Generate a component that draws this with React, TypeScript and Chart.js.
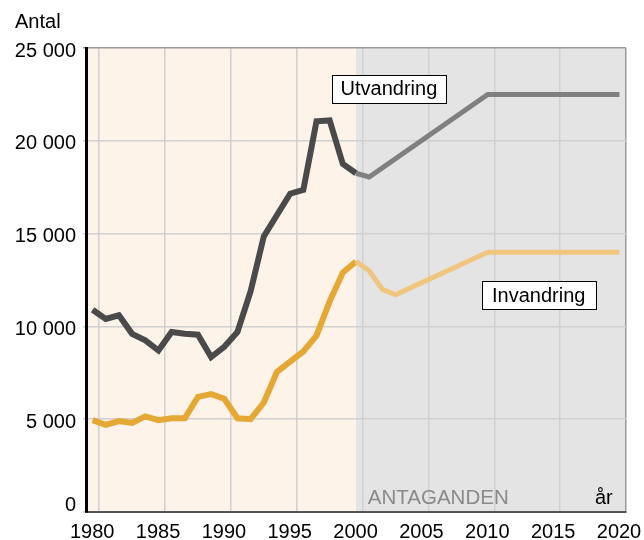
import React, { useEffect, useRef } from "react";
import { Chart, registerables } from "chart.js";

Chart.register(...registerables);

// ---- data ----
const histYears = [1980, 1981, 1982, 1983, 1984, 1985, 1986, 1987, 1988, 1989, 1990, 1991, 1992, 1993, 1994, 1995, 1996, 1997, 1998, 1999, 2000];
const utvandringHist = [10900, 10400, 10600, 9600, 9250, 8700, 9700, 9600, 9550, 8350, 8900, 9700, 11900, 14850, 16000, 17150, 17350, 21050, 21100, 18750, 18250];
const invandringHist = [4950, 4700, 4900, 4800, 5150, 4950, 5050, 5050, 6200, 6350, 6100, 5050, 5000, 5900, 7550, 8100, 8650, 9500, 11350, 12900, 13500];

const utvProjYears = [2000, 2001, 2010, 2020];
const utvandringProj = [18250, 18050, 22500, 22500];
const invProjYears = [2000, 2001, 2002, 2003, 2010, 2020];
const invandringProj = [13500, 13000, 12000, 11700, 14000, 14000];

const xTickYears = [1980, 1985, 1990, 1995, 2000, 2005, 2010, 2015, 2020];
const yTickValues = [0, 5000, 10000, 15000, 20000, 25000];

const yAxisTitle = "Antal";
const xAxisTitle = "år";
const assumptionLabel = "ANTAGANDEN";
const utvLabel = "Utvandring";
const invLabel = "Invandring";

// points are drawn at the middle of the year interval
const POS_OFFSET = 0.5;
const PROJ_START = 1999.5;

const FONT = "'Liberation Sans', Arial, Helvetica, sans-serif";

const toPts = (years: number[], vals: number[]) =>
  years.map((y, i) => ({ x: y - POS_OFFSET, y: vals[i] }));

const fmt = (v: number) => String(v).replace(/\B(?=(\d{3})+(?!\d))/g, " ");

const decorPlugin = {
  id: "decor",
  beforeDraw(chart: any) {
    const { ctx, chartArea, scales } = chart;
    const xs = scales.x;
    const xSplit = xs.getPixelForValue(PROJ_START);
    ctx.save();
    ctx.fillStyle = "#fdf3e9";
    ctx.fillRect(chartArea.left, chartArea.top, xSplit - chartArea.left, chartArea.bottom - chartArea.top);
    ctx.fillStyle = "#e4e4e4";
    ctx.fillRect(xSplit, chartArea.top, chartArea.right - xSplit, chartArea.bottom - chartArea.top);
    ctx.restore();
  },
  afterDraw(chart: any) {
    const { ctx, chartArea, scales } = chart;
    const xs = scales.x;
    const ys = scales.y;
    ctx.save();
    ctx.font = `20px ${FONT}`;
    ctx.textBaseline = "middle";
    ctx.textAlign = "left";
    ctx.fillStyle = "#000";
    ctx.fillText(yAxisTitle, 15, 22);

    // y tick labels
    ctx.textAlign = "right";
    yTickValues.forEach((v) => {
      const py = ys.getPixelForValue(v) + (v === 0 ? -7 : 3);
      ctx.fillText(fmt(v), chartArea.left - 10, py);
    });

    ctx.textAlign = "left";
    ctx.textBaseline = "alphabetic";
    ctx.fillStyle = "#8a8a8a";
    ctx.font = `20.5px ${FONT}`;
    ctx.fillText(assumptionLabel, xs.getPixelForValue(2000.4), chartArea.bottom - 8);
    ctx.font = `20px ${FONT}`;
    ctx.fillStyle = "#000";
    ctx.fillText(xAxisTitle, 595, chartArea.bottom - 8);

    const box = (text: string, xv: number, yv: number, w: number, h: number) => {
      const cx = xs.getPixelForValue(xv);
      const cy = ys.getPixelForValue(yv);
      const x0 = Math.round(cx - w / 2) + 0.5;
      const y0 = Math.round(cy - h / 2) + 0.5;
      ctx.fillStyle = "#fff";
      ctx.fillRect(x0, y0, w, h);
      ctx.strokeStyle = "#000";
      ctx.lineWidth = 1;
      ctx.strokeRect(x0, y0, w, h);
      ctx.fillStyle = "#000";
      ctx.textAlign = "center";
      ctx.textBaseline = "middle";
      ctx.fillText(text, cx, cy + 1);
    };
    box(utvLabel, 2002.0, 22800, 114, 28);
    box(invLabel, 2013.37, 11670, 114, 28);
    ctx.restore();
  },
};

export default function App() {
  const ref = useRef<HTMLCanvasElement>(null);

  useEffect(() => {
    if (!ref.current) return;
    const chart = new Chart(ref.current, {
      type: "line",
      data: {
        datasets: [
          {
            label: "Utvandring prognos",
            data: toPts(utvProjYears, utvandringProj),
            borderColor: "#808080",
            borderWidth: 5,
            pointRadius: 0,
            tension: 0,
          },
          {
            label: "Invandring prognos",
            data: toPts(invProjYears, invandringProj),
            borderColor: "#f0c67e",
            borderWidth: 5,
            pointRadius: 0,
            tension: 0,
          },
          {
            label: "Utvandring",
            data: toPts(histYears, utvandringHist),
            borderColor: "#4a4a4a",
            borderWidth: 6,
            pointRadius: 0,
            tension: 0,
          },
          {
            label: "Invandring",
            data: toPts(histYears, invandringHist),
            borderColor: "#e5a834",
            borderWidth: 6,
            pointRadius: 0,
            tension: 0,
          },
        ],
      },
      options: {
        animation: false,
        responsive: false,
        devicePixelRatio: 1,
        layout: { padding: { left: 0, top: 48, right: 18, bottom: 0 } },
        plugins: { legend: { display: false }, tooltip: { enabled: false } },
        scales: {
          x: {
            type: "linear",
            min: 1979,
            max: 2020,
            afterBuildTicks: (s: any) => {
              s.ticks = xTickYears.map((v) => ({ value: v }));
            },
            afterFit: (s: any) => {
              s.height = 28;
              s.paddingLeft = 0;
              s.paddingRight = 0;
            },
            grid: {
              color: (c: any) => (c.tick && c.tick.value === 2020 ? "#999999" : "#d0d0d0"),
              lineWidth: 1.5,
              drawTicks: false,
            },
            border: { color: "#555555", width: 2 },
            ticks: {
              color: "#000",
              font: { family: FONT, size: 20 },
              padding: 8,
              labelOffset: -7,
              maxRotation: 0,
              autoSkip: false,
              callback: (v: any) => String(v),
            },
          },
          y: {
            type: "linear",
            min: 0,
            max: 25000,
            afterBuildTicks: (s: any) => {
              s.ticks = yTickValues.map((v) => ({ value: v }));
            },
            afterFit: (s: any) => {
              s.width = 86;
            },
            grid: {
              color: (c: any) => (c.tick && c.tick.value === 25000 ? "#999999" : "#d0d0d0"),
              lineWidth: 1.5,
              tickLength: 3,
            },
            border: { color: "#000", width: 3 },
            ticks: { display: false },
          },
        },
      },
      plugins: [decorPlugin],
    });
    return () => chart.destroy();
  }, []);

  return (
    <div style={{ position: "absolute", left: 0, top: 0, width: 644, height: 540 }}>
      <canvas ref={ref} width={644} height={540} style={{ width: 644, height: 540, display: "block" }} />
    </div>
  );
}
